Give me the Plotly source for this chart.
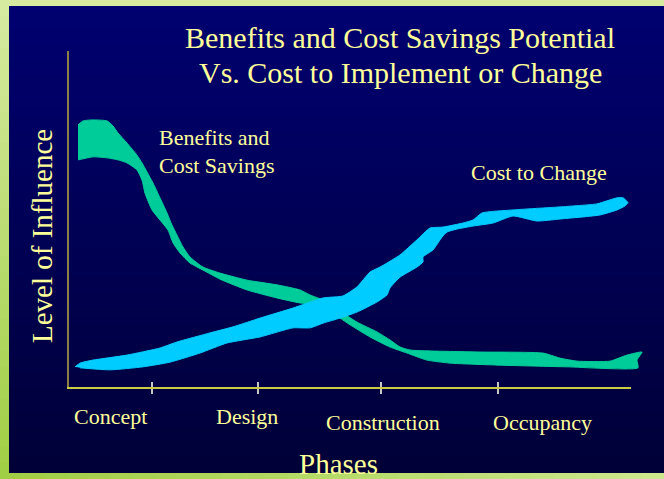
import plotly.graph_objects as go

W, H = 664, 479

# ---------------- data ----------------
phase_labels = ["Concept", "Design", "Construction", "Occupancy"]
phase_label_x = [7.4, 31.6, 55.8, 84.3]
phase_label_row = [0, 0, 1, 1]
phase_ticks = [14.8, 33.6, 55.5, 76.3]

# "Benefits and Cost Savings" ribbon (level of influence, 0-100)
benefit_upper_x = [1.60, 2.49, 4.27, 6.76, 7.83, 8.72, 10.32, 12.10, 12.99, 13.88, 14.95, 16.19,
                   17.44, 18.33, 19.22, 20.28, 21.53, 23.84, 26.87, 31.67, 37.01, 41.10, 42.88,
                   45.20, 46.98, 48.75, 51.25, 54.80, 57.12, 58.90, 60.68, 64.77, 73.67, 84.34,
                   87.37, 90.39, 96.26, 99.29, 101.96]
benefit_upper_y = [78.0, 79.2, 79.5, 79.2, 77.7, 75.6, 72.6, 69.0, 66.7, 64.0, 60.7, 56.3,
                   51.8, 48.2, 45.2, 41.7, 38.7, 35.7, 33.9, 31.8, 30.4, 28.9, 27.4,
                   25.9, 24.1, 22.0, 19.3, 16.4, 14.0, 11.9, 11.0, 10.7, 10.4, 10.1,
                   8.6, 7.7, 7.7, 9.5, 10.4]
benefit_lower_x = [1.60, 2.49, 4.27, 6.76, 8.72, 10.32, 12.10, 12.99, 13.52, 14.77, 16.19, 17.62,
                   18.51, 19.75, 21.53, 23.84, 26.87, 31.67, 37.01, 41.10, 42.88, 45.55, 48.22,
                   50.00, 53.56, 57.12, 60.14, 63.70, 67.79, 76.69, 88.61, 101.25, 101.07]
benefit_lower_y = [67.6, 67.9, 68.5, 68.2, 67.6, 66.7, 64.6, 61.6, 57.7, 52.7, 49.7, 46.7,
                   42.9, 39.9, 36.9, 34.8, 32.1, 28.9, 26.5, 25.0, 24.7, 22.9, 20.5,
                   18.5, 14.9, 11.9, 10.1, 8.0, 7.1, 6.5, 6.0, 5.7, 8.0]

# "Cost to Change" ribbon
cost_upper_x = [1.07, 1.96, 4.27, 10.32, 16.19, 19.22, 25.09, 29.18, 33.99, 39.86, 45.20, 48.75,
                51.25, 53.56, 55.34, 58.90, 61.92, 64.23, 66.55, 70.11, 71.89, 73.49, 79.00,
                87.37, 93.95, 95.73, 97.51, 98.58, 99.47]
cost_upper_y = [6.0, 7.1, 8.0, 9.5, 11.6, 13.4, 16.1, 17.9, 20.5, 23.5, 26.5, 27.1,
                29.8, 34.2, 35.7, 39.3, 43.8, 47.3, 47.6, 48.8, 49.7, 51.8, 52.7,
                53.6, 54.5, 55.4, 56.3, 56.3, 54.8]
cost_lower_x = [1.96, 7.30, 13.17, 17.97, 23.31, 28.11, 33.99, 39.86, 42.88, 45.20, 48.22, 51.25,
                54.80, 56.58, 57.12, 58.90, 61.92, 62.99, 62.99, 64.77, 66.37, 67.26, 69.04,
                71.89, 75.44, 79.00, 83.27, 87.37, 94.48, 97.51, 98.93]
cost_lower_y = [5.7, 5.1, 6.0, 7.4, 10.1, 13.1, 14.9, 17.6, 17.6, 19.0, 20.5, 22.3,
                25.3, 27.4, 29.5, 32.7, 35.7, 37.2, 38.7, 40.8, 44.6, 46.1, 47.0,
                47.9, 48.8, 50.9, 49.4, 50.0, 51.2, 52.7, 53.9]

# ---------------- styling ----------------
FONT = "Liberation Serif"
TXT = "#ffff99"
GREEN = "#00cc99"
CYAN = "#00ccff"


def px(x):
    return x / W


def py(y):
    return 1 - y / H


def mix(c1, c2, t):
    return "rgb(%d,%d,%d)" % tuple(round(a + (b - a) * t) for a, b in zip(c1, c2))


shapes = []
# dark navy vertical gradient panel
top_c, bot_c = (0, 0, 112), (0, 0, 56)
N = 60
y_top, y_bot = 6, 473
for i in range(N):
    a = y_top + (y_bot - y_top) * i / N
    b = y_top + (y_bot - y_top) * (i + 1) / N + 1
    shapes.append(dict(type="rect", xref="paper", yref="paper", layer="below",
                       x0=px(9), x1=1, y0=py(min(b, y_bot)), y1=py(a),
                       fillcolor=mix(top_c, bot_c, i / (N - 1)), line=dict(width=0)))
# left green strip
light, dark = (214, 234, 160), (160, 206, 68)
for i in range(30):
    a = H * i / 30
    b = H * (i + 1) / 30 + 1
    shapes.append(dict(type="rect", xref="paper", yref="paper", layer="below",
                       x0=0, x1=px(9), y0=py(min(b, H)), y1=py(a),
                       fillcolor=mix(light, dark, i / 29), line=dict(width=0)))
# bottom green strip
for i in range(30):
    a = W * i / 30
    b = W * (i + 1) / 30 + 1
    shapes.append(dict(type="rect", xref="paper", yref="paper", layer="below",
                       x0=px(a), x1=px(min(b, W)), y0=0, y1=py(y_bot),
                       fillcolor=mix(dark, (204, 230, 140), i / 29), line=dict(width=0)))

fig = go.Figure()

fig.add_trace(go.Scatter(
    x=benefit_upper_x + benefit_lower_x[::-1],
    y=benefit_upper_y + benefit_lower_y[::-1],
    fill="toself", fillcolor=GREEN, mode="lines",
    line=dict(color=GREEN, width=1, shape="spline", smoothing=0.5),
    hoverinfo="skip", showlegend=False, xaxis="x", yaxis="y"))

fig.add_trace(go.Scatter(
    x=cost_upper_x + cost_lower_x[::-1],
    y=cost_upper_y + cost_lower_y[::-1],
    fill="toself", fillcolor=CYAN, mode="lines",
    line=dict(color=CYAN, width=1, shape="spline", smoothing=0.5),
    hoverinfo="skip", showlegend=False, xaxis="x", yaxis="y"))

# dummy traces so the axis-only subplots are built
fig.add_trace(go.Scatter(x=[None], y=[None], xaxis="x2", yaxis="y2", showlegend=False, hoverinfo="skip"))
fig.add_trace(go.Scatter(x=[None], y=[None], xaxis="x3", yaxis="y2", showlegend=False, hoverinfo="skip"))

y_dom = [py(387), py(51)]
x_scale = (631 - 69) / 100.0

annotations = [
    dict(text="Benefits and Cost Savings Potential", x=px(400), y=py(37), font=dict(size=30)),
    dict(text="Vs. Cost to Implement or Change", x=px(400), y=py(72), font=dict(size=30)),
    dict(text="Level of Influence", x=px(42), y=py(236), textangle=-90, font=dict(size=29)),
    dict(text="Phases", x=px(338), y=py(464), font=dict(size=29)),
    dict(text="Benefits and", x=px(157), y=py(137.5), xanchor="left", font=dict(size=22)),
    dict(text="Cost Savings", x=px(157), y=py(165.5), xanchor="left", font=dict(size=22)),
    dict(text="Cost to Change", x=px(539), y=py(172.5), font=dict(size=22)),
]
row_y = [py(416.5), py(422.5)]
for lab, lx, r in zip(phase_labels, phase_label_x, phase_label_row):
    annotations.append(dict(text=lab, x=lx, xref="x2", y=row_y[r], font=dict(size=22)))

for a in annotations:
    a.setdefault("xref", "paper")
    a.setdefault("yref", "paper")
    a.setdefault("xanchor", "center")
    a.setdefault("yanchor", "middle")
    a["showarrow"] = False
    a["font"] = dict(family=FONT, color=TXT, size=a["font"]["size"])

fig.update_layout(
    width=W, height=H,
    margin=dict(l=0, r=0, t=0, b=0),
    paper_bgcolor="rgb(214,234,160)",
    plot_bgcolor="rgba(0,0,0,0)",
    shapes=shapes,
    annotations=annotations,
    showlegend=False,
    xaxis=dict(domain=[px(69), px(650)], range=[0, (650 - 69) / x_scale], visible=False,
               fixedrange=True),
    yaxis=dict(domain=y_dom, range=[0, 100], visible=False, fixedrange=True),
    xaxis2=dict(domain=[px(69), px(631)], range=[0, 100], anchor="y2",
                showline=True, linecolor="#cccc44", linewidth=1.5,
                showgrid=False, zeroline=False, showticklabels=False,
                tickmode="array", tickvals=phase_ticks, ticks="outside", ticklen=5,
                tickwidth=1.5, tickcolor="#c8c8c8", fixedrange=True),
    xaxis3=dict(overlaying="x2", anchor="y2", range=[0, 100],
                showline=False, showgrid=False, zeroline=False, showticklabels=False,
                tickmode="array", tickvals=phase_ticks, ticks="inside", ticklen=5,
                tickwidth=1.5, tickcolor="#c8c8c8", fixedrange=True),
    yaxis2=dict(domain=y_dom, range=[0, 100], anchor="x2",
                showline=True, linecolor="#8a7f45", linewidth=2,
                showgrid=False, zeroline=False, showticklabels=False, ticks="",
                fixedrange=True),
)

fig.write_html("out.html", config={"displayModeBar": False, "staticPlot": True},
               post_script="document.body.style.margin='0';document.body.style.overflow='hidden';")
